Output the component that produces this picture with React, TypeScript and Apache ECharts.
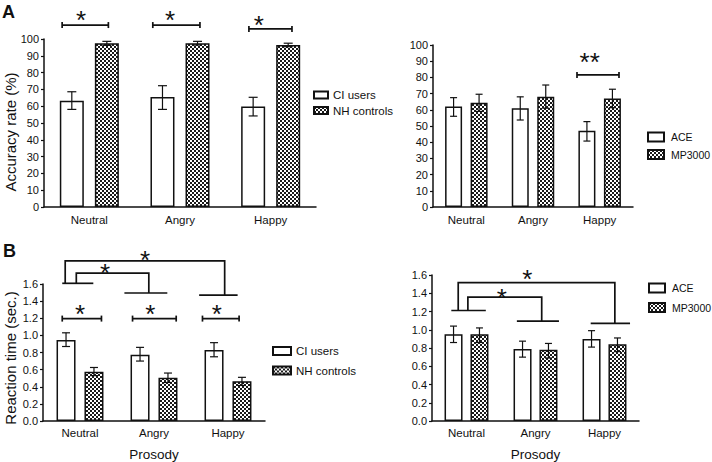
import React, { useEffect, useRef } from 'react';
import * as echarts from 'echarts';

const FONT = "'Liberation Sans', Arial, Helvetica, sans-serif";
const INK = '#111';

const emotions = ['Neutral', 'Angry', 'Happy'];

// Panel A (accuracy, %), CI users vs NH controls
const accCI = [63.3, 65.5, 59.8];
const accCIErr = [[58.1, 68.6], [58.1, 72.2], [54.2, 65.3]];
const accNH = [97.4, 97.5, 96.4];
const accNHErr = [[96.2, 98.6], [96.4, 98.6], [95.4, 97.5]];

// Panel A right (accuracy, %), ACE vs MP3000
const accACE = [62, 61, 47];
const accACEErr = [[56, 67.5], [53.7, 68], [40.7, 52.7]];
const accMP = [64.4, 68, 67];
const accMPErr = [[59, 69.6], [61, 75.3], [61.3, 72.7]];

// Panel B (reaction time, sec.), CI users vs NH controls
const rtCI = [0.945, 0.775, 0.83];
const rtCIErr = [[0.87, 1.03], [0.70, 0.86], [0.75, 0.915]];
const rtNH = [0.575, 0.505, 0.465];
const rtNHErr = [[0.53, 0.625], [0.45, 0.56], [0.415, 0.51]];

// Panel B right (reaction time, sec.), ACE vs MP3000
const rtACE = [0.95, 0.79, 0.90];
const rtACEErr = [[0.86, 1.04], [0.70, 0.875], [0.81, 0.99]];
const rtMP = [0.95, 0.78, 0.84];
const rtMPErr = [[0.86, 1.02], [0.69, 0.85], [0.76, 0.91]];

const accTicks = { min: 0, max: 100, interval: 10 };
const rtTicks = { min: 0, max: 1.6, interval: 0.2 };

// Significance annotations (category index, level in axis units)
const pairBrackets = [
  { panel: 0, cat: 0, y: 108.3, l: -0.30, r: 0.21, label: '*', sx: -0.09, sdy: 11 },
  { panel: 0, cat: 1, y: 108.3, l: -0.30, r: 0.22, label: '*', sx: -0.11, sdy: 11 },
  { panel: 0, cat: 2, y: 106.0, l: -0.24, r: 0.235, label: '*', sx: -0.13, sdy: 9.5 },
  { panel: 1, cat: 2, y: 81.5, l: -0.34, r: 0.29, label: '**', sx: -0.15, sdy: 18 },
  { panel: 2, cat: 0, y: 1.196, l: -0.24, r: 0.29, label: '*', sx: 0.0, sdy: 10 },
  { panel: 2, cat: 1, y: 1.196, l: -0.29, r: 0.30, label: '*', sx: -0.05, sdy: 10 },
  { panel: 2, cat: 2, y: 1.196, l: -0.345, r: 0.15, label: '*', sx: -0.15, sdy: 10 },
];

const groupBases = [
  { panel: 2, cat: 0, y: 1.608, l: -0.24, r: 0.18 },
  { panel: 2, cat: 1, y: 1.495, l: -0.40, r: 0.18 },
  { panel: 2, cat: 2, y: 1.469, l: -0.39, r: 0.13 },
  { panel: 3, cat: 0, y: 1.211, l: -0.22, r: 0.28 },
  { panel: 3, cat: 1, y: 1.095, l: -0.27, r: 0.34 },
  { panel: 3, cat: 2, y: 1.07, l: -0.20, r: 0.37 },
];

const groupLinks = [
  { panel: 2, from: 0, fdx: -0.20, to: 2, tdx: -0.045, top: 1.869, scat: 1, sx: -0.12, sdy: 6 },
  { panel: 2, from: 0, fdx: -0.05, to: 1, tdx: -0.07, top: 1.726, scat: 0, sx: 0.34, sdy: 6 },
  { panel: 3, from: 0, fdx: -0.12, to: 2, tdx: 0.15, top: 1.516, scat: 1, sx: -0.12, sdy: 9 },
  { panel: 3, from: 0, fdx: 0.02, to: 1, tdx: 0.09, top: 1.357, scat: 0, sx: 0.51, sdy: 5 },
];

function makePattern(): string {
  const c = document.createElement('canvas');
  c.width = 4;
  c.height = 4;
  const ctx = c.getContext('2d')!;
  ctx.fillStyle = '#ffffff';
  ctx.fillRect(0, 0, 4, 4);
  ctx.fillStyle = '#1a1a1a';
  ctx.fillRect(0, 0, 2, 2);
  ctx.fillRect(2, 2, 2, 2);
  return c.toDataURL();
}

const STAR_FS = 26;
const lineStyle = { stroke: INK, lineWidth: 1.7 };

function starText(x: number, centerY: number, label: string) {
  return {
    type: 'text',
    x,
    y: centerY + STAR_FS * 0.21,
    style: {
      text: label,
      fontSize: STAR_FS,
      fontFamily: FONT,
      fill: INK,
      align: 'center',
      verticalAlign: 'middle',
    },
  };
}

export default function App() {
  const ref = useRef<HTMLDivElement>(null);

  useEffect(() => {
    if (!ref.current) return;
    const chart = echarts.init(ref.current, undefined, { renderer: 'svg' });
    const pattern = { image: makePattern(), repeat: 'repeat' };

    const grids = [
      { left: 44, top: 39, width: 272, height: 168 },
      { left: 433, top: 45, width: 200, height: 162 },
      { left: 43, top: 284, width: 222, height: 142.7 },
      { left: 432, top: 275, width: 207, height: 150.7 },
    ];

    const xAxes = grids.map((_, i) => ({
      type: 'category',
      gridIndex: i,
      data: emotions,
      axisLine: { lineStyle: { color: INK, width: 1.5 } },
      axisTick: { alignWithLabel: true, length: 3, lineStyle: { color: INK, width: 1.2 } },
      axisLabel: { color: INK, fontSize: 11.5, fontFamily: FONT, margin: i < 2 ? 7 : 6 },
      name: i >= 2 ? 'Prosody' : '',
      nameLocation: 'middle',
      nameGap: 26,
      nameTextStyle: { color: INK, fontSize: 13.5, fontFamily: FONT },
    }));

    const yAxes = grids.map((_, i) => ({
      type: 'value',
      gridIndex: i,
      ...(i < 2 ? accTicks : rtTicks),
      axisLine: { show: true, lineStyle: { color: INK, width: 1.5 } },
      axisTick: { show: true, length: 3, lineStyle: { color: INK, width: 1.2 } },
      splitLine: { show: false },
      axisLabel: {
        color: INK,
        fontSize: 11,
        fontFamily: FONT,
        margin: 5,
        formatter: i < 2 ? (v: number) => String(v) : (v: number) => v.toFixed(1),
      },
    }));

    const series: any[] = [];

    function addPair(
      gi: number,
      names: [string, string],
      vA: number[],
      vB: number[],
      eA: number[][],
      eB: number[][],
      w: number,
      gap: number,
      cap: number
    ) {
      const offset = (w * (1 + gap)) / 2;
      series.push({
        type: 'bar',
        name: names[0],
        xAxisIndex: gi,
        yAxisIndex: gi,
        data: vA,
        barWidth: w,
        barGap: `${Math.round(gap * 100)}%`,
        itemStyle: { color: '#ffffff', borderColor: INK, borderWidth: 1.5 },
        z: 2,
      });
      series.push({
        type: 'bar',
        name: names[1],
        xAxisIndex: gi,
        yAxisIndex: gi,
        data: vB,
        barWidth: w,
        barGap: `${Math.round(gap * 100)}%`,
        itemStyle: { color: pattern, borderColor: INK, borderWidth: 1.5 },
        z: 2,
      });
      [
        { err: eA, sign: -1 },
        { err: eB, sign: 1 },
      ].forEach(({ err, sign }, k) => {
        series.push({
          type: 'custom',
          name: `err-${gi}-${k}`,
          xAxisIndex: gi,
          yAxisIndex: gi,
          silent: true,
          z: 5,
          encode: { x: 0, y: [1, 2] },
          data: err.map((e, i) => [i, e[0], e[1]]),
          renderItem: (_p: any, api: any) => {
            const i = api.value(0);
            const lo = api.coord([i, api.value(1)]);
            const hi = api.coord([i, api.value(2)]);
            const x = lo[0] + sign * offset;
            const cw = cap / 2;
            const st = { stroke: INK, lineWidth: 1.2 };
            return {
              type: 'group',
              children: [
                { type: 'line', shape: { x1: x, y1: lo[1], x2: x, y2: hi[1] }, style: st },
                { type: 'line', shape: { x1: x - cw, y1: lo[1], x2: x + cw, y2: lo[1] }, style: st },
                { type: 'line', shape: { x1: x - cw, y1: hi[1], x2: x + cw, y2: hi[1] }, style: st },
              ],
            };
          },
        });
      });
    }

    addPair(0, ['CI users', 'NH controls'], accCI, accNH, accCIErr, accNHErr, 24, 0.46, 9);
    addPair(1, ['ACE', 'MP3000'], accACE, accMP, accACEErr, accMPErr, 17, 0.5, 7);
    addPair(2, ['CI users', 'NH controls'], rtCI, rtNH, rtCIErr, rtNHErr, 19, 0.47, 8);
    addPair(3, ['ACE', 'MP3000'], rtACE, rtMP, rtACEErr, rtMPErr, 18, 0.44, 7);

    pairBrackets.forEach((b, k) => {
      series.push({
        type: 'custom',
        name: `pair-${k}`,
        xAxisIndex: b.panel,
        yAxisIndex: b.panel,
        silent: true,
        clip: false,
        z: 6,
        encode: { x: 0, y: 1 },
        data: [[b.cat, b.y]],
        renderItem: (_p: any, api: any) => {
          const band = api.size([1, 0])[0];
          const p = api.coord([b.cat, b.y]);
          const x1 = p[0] + b.l * band;
          const x2 = p[0] + b.r * band;
          const y = p[1];
          return {
            type: 'group',
            children: [
              { type: 'line', shape: { x1, y1: y, x2, y2: y }, style: lineStyle },
              { type: 'line', shape: { x1, y1: y - 3, x2: x1, y2: y + 3 }, style: lineStyle },
              { type: 'line', shape: { x1: x2, y1: y - 3, x2, y2: y + 3 }, style: lineStyle },
              starText(p[0] + b.sx * band, y - b.sdy, b.label),
            ],
          };
        },
      });
    });

    groupBases.forEach((b, k) => {
      series.push({
        type: 'custom',
        name: `base-${k}`,
        xAxisIndex: b.panel,
        yAxisIndex: b.panel,
        silent: true,
        clip: false,
        z: 6,
        encode: { x: 0, y: 1 },
        data: [[b.cat, b.y]],
        renderItem: (_p: any, api: any) => {
          const band = api.size([1, 0])[0];
          const p = api.coord([b.cat, b.y]);
          return {
            type: 'line',
            shape: { x1: p[0] + b.l * band, y1: p[1], x2: p[0] + b.r * band, y2: p[1] },
            style: lineStyle,
          };
        },
      });
    });

    groupLinks.forEach((g, k) => {
      const fromBase = groupBases.find((b) => b.panel === g.panel && b.cat === g.from)!;
      const toBase = groupBases.find((b) => b.panel === g.panel && b.cat === g.to)!;
      series.push({
        type: 'custom',
        name: `link-${k}`,
        xAxisIndex: g.panel,
        yAxisIndex: g.panel,
        silent: true,
        clip: false,
        z: 6,
        encode: { x: 0, y: 1 },
        data: [[g.from, g.top]],
        renderItem: (_p: any, api: any) => {
          const band = api.size([1, 0])[0];
          const a = api.coord([g.from, fromBase.y]);
          const t = api.coord([g.from, g.top]);
          const b = api.coord([g.to, toBase.y]);
          const s = api.coord([g.scat, g.top]);
          const xa = a[0] + g.fdx * band;
          const xb = b[0] + g.tdx * band;
          return {
            type: 'group',
            children: [
              {
                type: 'polyline',
                shape: { points: [[xa, a[1]], [xa, t[1]], [xb, t[1]], [xb, b[1]]] },
                style: { ...lineStyle, fill: null },
              },
              starText(s[0] + g.sx * band, t[1] - g.sdy, '*'),
            ],
          };
        },
      });
    });

    const legendBase = {
      orient: 'vertical',
      icon: 'rect',
      selectedMode: false,
      padding: 0,
    };
    const leftText = { color: INK, fontSize: 11.5, fontFamily: FONT };
    const rightText = { color: INK, fontSize: 10.5, fontFamily: FONT, padding: [0, 0, 0, 2] };

    chart.setOption({
      animation: false,
      backgroundColor: '#ffffff',
      grid: grids.map((g) => ({ ...g, containLabel: false })),
      xAxis: xAxes,
      yAxis: yAxes,
      legend: [
        { ...legendBase, textStyle: leftText, data: ['CI users', 'NH controls'], left: 313, top: 89, itemWidth: 14, itemHeight: 7, itemGap: 3.5 },
        { ...legendBase, textStyle: rightText, data: ['ACE', 'MP3000'], left: 647, top: 131.5, itemWidth: 16, itemHeight: 9, itemGap: 6.5 },
        { ...legendBase, textStyle: leftText, data: ['CI users', 'NH controls'], left: 272, top: 345, itemWidth: 18, itemHeight: 8, itemGap: 7.5 },
        { ...legendBase, textStyle: rightText, data: ['ACE', 'MP3000'], left: 648, top: 282.5, itemWidth: 16, itemHeight: 9, itemGap: 8.5 },
      ],
      graphic: [
        {
          type: 'text',
          left: 2,
          top: 3,
          style: { text: 'A', fontSize: 18, fontWeight: 'bold', fontFamily: FONT, fill: INK },
        },
        {
          type: 'text',
          left: 3,
          top: 242,
          style: { text: 'B', fontSize: 18, fontWeight: 'bold', fontFamily: FONT, fill: INK },
        },
        {
          type: 'text',
          x: 10,
          y: 132,
          rotation: Math.PI / 2,
          style: {
            text: 'Accuracy rate (%)',
            fontSize: 15,
            fontFamily: FONT,
            fill: INK,
            align: 'center',
            verticalAlign: 'middle',
          },
        },
        {
          type: 'text',
          x: 10,
          y: 358,
          rotation: Math.PI / 2,
          style: {
            text: 'Reaction time (sec.)',
            fontSize: 15,
            fontFamily: FONT,
            fill: INK,
            align: 'center',
            verticalAlign: 'middle',
          },
        },
      ],
      series,
    });

    return () => chart.dispose();
  }, []);

  return (
    <div
      ref={ref}
      style={{ position: 'fixed', left: 0, top: 0, width: 712, height: 462, overflow: 'hidden' }}
    />
  );
}
